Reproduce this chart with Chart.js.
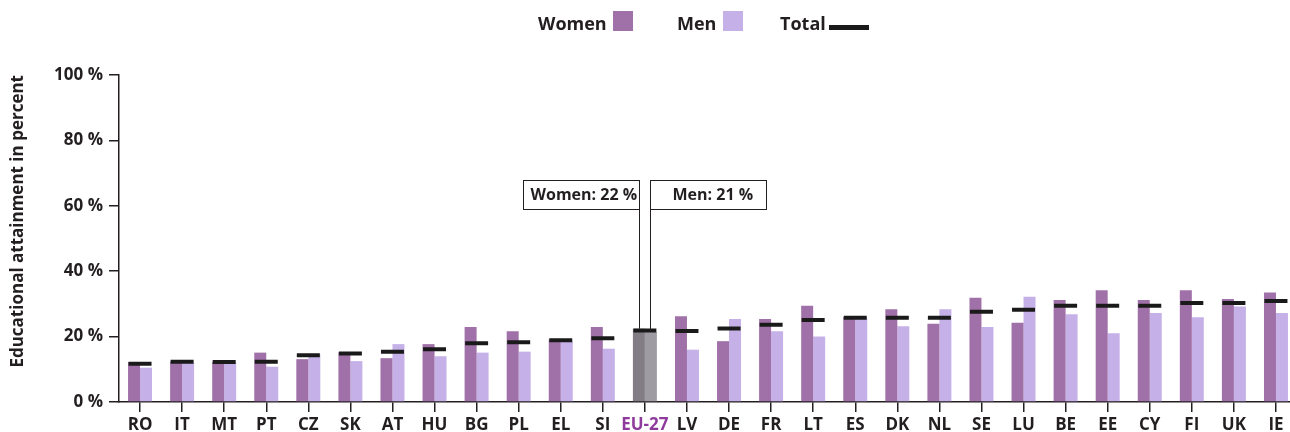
<!DOCTYPE html>
<html lang="en">
<head>
  <meta charset="UTF-8">
  <title>Educational attainment by sex</title>
  <style>
    body {
      margin: 0;
      background: #fff;
      overflow: hidden;
      font-family: 'Open Sans', sans-serif;
    }
    .wrap {
      position: relative;
      width: 1297px;
      height: 432px;
    }
    #chart { display: block; }
    .legend span {
      position: absolute;
      font-weight: bold;
      font-size: 18px;
      line-height: 18px;
      color: #231f20;
    }
    .legend i {
      position: absolute;
      display: block;
    }
  </style>
</head>
<body>
<div class="wrap">
  <canvas id="chart" width="1297" height="432"></canvas>
  <div class="legend">
    <span style="left:538px; top:14px;">Women</span>
    <i style="left:613px; top:11px; width:20px; height:20px; background:#a070a8;"></i>
    <span style="left:677px; top:14px;">Men</span>
    <i style="left:723px; top:11px; width:20px; height:20px; background:#c5b1e7;"></i>
    <span style="left:780px; top:14px;">Total</span>
    <i style="left:829px; top:25px; width:40px; height:5px; background:#1a1a1a;"></i>
  </div>
</div>

<script src="https://cdn.jsdelivr.net/npm/chart.js@4.4.0/dist/chart.umd.min.js"></script>
<script>
  const countries = ['RO', 'IT', 'MT', 'PT', 'CZ', 'SK', 'AT', 'HU', 'BG', 'PL', 'EL', 'SI', 'EU-27', 'LV',
    'DE', 'FR', 'LT', 'ES', 'DK', 'NL', 'SE', 'LU', 'BE', 'EE', 'CY', 'FI', 'UK', 'IE'];
  const women = [12.2, 12.4, 12.3, 15.1, 13.1, 15.2, 13.4, 17.7, 22.9, 21.6, 19.1, 22.9, 22.4, 26.2,
    18.6, 25.4, 29.4, 26.0, 28.4, 23.9, 31.9, 24.2, 31.2, 34.2, 31.2, 34.2, 31.5, 33.5];
  const men = [10.5, 12.1, 12.1, 10.8, 14.7, 12.5, 17.7, 14.0, 15.1, 15.4, 18.7, 16.3, 21.4, 16.0,
    25.4, 21.6, 20.0, 25.6, 23.2, 28.4, 22.9, 32.2, 26.8, 21.0, 27.2, 25.9, 29.2, 27.2];
  const total = [11.7, 12.3, 12.2, 12.3, 14.3, 14.8, 15.4, 16.1, 18.0, 18.3, 18.9, 19.5, 21.9, 21.7,
    22.5, 23.6, 25.1, 25.8, 25.8, 25.8, 27.6, 28.2, 29.4, 29.4, 29.4, 30.3, 30.3, 30.9];
  const yTicks = [0, 20, 40, 60, 80, 100];
  const euLabel = 'EU-27';
  const euWomenText = 'Women: 22 %';
  const euMenText = 'Men: 21 %';

  const euIdx = countries.indexOf(euLabel);
  const ink = '#231f20';
  const font = "'Open Sans', sans-serif";

  // callout boxes for the EU-27 bars
  const euCallout = {
    id: 'euCallout',
    afterDatasetsDraw(chart) {
      const ctx = chart.ctx;
      const y = chart.scales.y;
      const wBar = chart.getDatasetMeta(1).data[euIdx];
      const mBar = chart.getDatasetMeta(2).data[euIdx];
      const wx = Math.round(wBar.x) + 0.5;
      const mx = Math.round(mBar.x - 1) + 0.5;
      const top = 180.5, h = 29, w = 116;
      ctx.save();
      ctx.strokeStyle = ink;
      ctx.lineWidth = 1;
      ctx.fillStyle = '#fff';
      ctx.fillRect(wx - w, top, w, h);
      ctx.strokeRect(wx - w, top, w, h);
      ctx.fillRect(mx, top, w, h);
      ctx.strokeRect(mx, top, w, h);
      ctx.beginPath();
      ctx.moveTo(wx, top + h);
      ctx.lineTo(wx, y.getPixelForValue(women[euIdx]));
      ctx.moveTo(mx, top + h);
      ctx.lineTo(mx, y.getPixelForValue(men[euIdx]));
      ctx.stroke();
      ctx.fillStyle = ink;
      ctx.font = 'bold 16px ' + font;
      ctx.textBaseline = 'alphabetic';
      ctx.textAlign = 'left';
      ctx.fillText(euWomenText, wx - w + 7, 200);
      ctx.fillText(euMenText, mx + 22, 200);
      ctx.restore();
    }
  };

  new Chart(document.getElementById('chart'), {
    type: 'bar',
    data: {
      labels: countries,
      datasets: [
        {
          type: 'line',
          label: 'Total',
          data: total,
          showLine: false,
          pointStyle: 'line',
          pointRadius: 11.5,
          pointHoverRadius: 11.5,
          pointBorderWidth: 4,
          pointHoverBorderWidth: 4,
          pointBorderColor: '#1a1a1a',
          pointBackgroundColor: '#1a1a1a',
          order: 0
        },
        {
          label: 'Women',
          data: women,
          backgroundColor: c => c.dataIndex === euIdx ? '#827c85' : '#a070a8',
          categoryPercentage: 0.57,
          barPercentage: 1,
          order: 1
        },
        {
          label: 'Men',
          data: men,
          backgroundColor: c => c.dataIndex === euIdx ? '#9e9ca2' : '#c5b1e7',
          categoryPercentage: 0.57,
          barPercentage: 1,
          order: 2
        }
      ]
    },
    options: {
      responsive: false,
      animation: false,
      layout: { autoPadding: false, padding: { top: 75, left: 0, right: 0, bottom: 0 } },
      plugins: {
        legend: { display: false },
        tooltip: { enabled: false }
      },
      scales: {
        x: {
          afterFit: s => { s.height = 30; },
          grid: {
            offset: false,
            drawOnChartArea: false,
            tickLength: 10,
            color: ink,
            lineWidth: 1.5
          },
          border: { color: ink, width: 1.5 },
          ticks: {
            padding: 3,
            autoSkip: false,
            maxRotation: 0,
            font: { family: font, size: 17, weight: 'bold' },
            color: c => c.index === euIdx ? '#8f3b9d' : ink
          }
        },
        y: {
          min: yTicks[0],
          max: yTicks[yTicks.length - 1],
          afterFit: s => { s.width = 119; },
          afterBuildTicks: s => { s.ticks = yTicks.map(v => ({ value: v })); },
          grid: {
            drawOnChartArea: false,
            tickLength: 10,
            color: ink,
            lineWidth: 1.5
          },
          border: { color: ink, width: 1.5 },
          ticks: {
            padding: 6,
            font: { family: font, size: 17, weight: 'bold' },
            color: ink,
            callback: v => v + ' %'
          },
          title: {
            display: true,
            text: 'Educational attainment in percent',
            align: 'end',
            padding: { top: 8, bottom: 0 },
            font: { family: font, size: 17, weight: 'bold' },
            color: ink
          }
        }
      }
    },
    plugins: [euCallout]
  });
</script>
</body>
</html>
